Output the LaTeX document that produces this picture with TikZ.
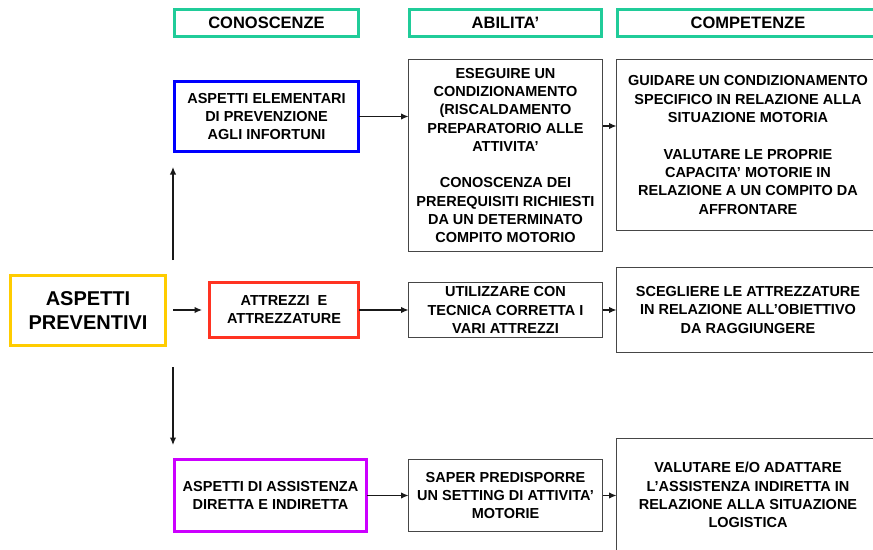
\documentclass[tikz,border=0pt]{standalone}
\usepackage{fontspec}
\setmainfont{Liberation Sans}
\usetikzlibrary{arrows.meta}
\definecolor{tealh}{RGB}{32,204,153}
\definecolor{blueb}{RGB}{0,0,255}
\definecolor{redb}{RGB}{255,51,34}
\definecolor{yelb}{RGB}{255,204,0}
\definecolor{magb}{RGB}{204,0,255}
\definecolor{grayb}{RGB}{70,70,70}
\begin{document}
\begin{tikzpicture}[x=1pt,y=-1pt,
  every node/.style={align=center, inner sep=0pt, outer sep=0pt},
  hdr/.style={draw=tealh, line width=3pt, minimum height=27pt, font=\fontsize{16.5}{19}\selectfont\bfseries},
  cbox/.style={line width=3pt, font=\fontsize{14.5}{18}\selectfont\bfseries},
  gbox/.style={draw=grayb, line width=1.2pt, font=\fontsize{14.5}{18.3}\selectfont\bfseries},
  rootbox/.style={draw=yelb, line width=3pt, font=\fontsize{20}{24}\selectfont\bfseries},
  arr/.style={-{Latex[length=7.5pt,width=6.5pt]}, line width=1.2pt, draw=black!90}
]
\useasboundingbox (0,0) rectangle (873,549);
\clip (0,0) rectangle (873,549);

% headers
\node[hdr, minimum width=184pt] (h1) at (266.5,23) {CONOSCENZE};
\node[hdr, minimum width=192pt] (h2) at (505.5,23) {ABILITA’};
\node[hdr, minimum width=261pt] (h3) at (748,23) {COMPETENZE};

% root
\node[rootbox, minimum width=155pt, minimum height=70pt] (root) at (88,310.5) {ASPETTI\\PREVENTIVI};

% conoscenze
\node[cbox, draw=blueb, minimum width=184pt, minimum height=70pt] (kn1) at (266.5,116.5)
  {ASPETTI ELEMENTARI\\DI PREVENZIONE\\AGLI INFORTUNI};
\node[cbox, draw=redb, minimum width=149pt, minimum height=55pt] (kn2) at (284,310)
  {ATTREZZI\ \ E\\ATTREZZATURE};
\node[cbox, draw=magb, minimum width=192pt, minimum height=72pt] (kn3) at (270.5,495.5)
  {ASPETTI DI ASSISTENZA\\DIRETTA E INDIRETTA};

% abilita
\node[gbox, minimum width=194pt, minimum height=192pt] (ab1) at (505.5,155.5)
  {ESEGUIRE UN\\CONDIZIONAMENTO\\(RISCALDAMENTO\\PREPARATORIO ALLE\\ATTIVITA’\\[18.3pt]CONOSCENZA DEI\\PREREQUISITI RICHIESTI\\DA UN DETERMINATO\\COMPITO MOTORIO};
\node[gbox, minimum width=194pt, minimum height=55pt] (ab2) at (505.5,310)
  {UTILIZZARE CON\\TECNICA CORRETTA I\\VARI ATTREZZI};
\node[gbox, minimum width=194pt, minimum height=72pt] (ab3) at (505.5,495.5)
  {SAPER PREDISPORRE\\UN SETTING DI ATTIVITA’\\MOTORIE};

% competenze
\node[gbox, minimum width=263pt, minimum height=171pt] (co1) at (748,145)
  {GUIDARE UN CONDIZIONAMENTO\\SPECIFICO IN RELAZIONE ALLA\\SITUAZIONE MOTORIA\\[18.3pt]VALUTARE LE PROPRIE\\CAPACITA’ MOTORIE IN\\RELAZIONE A UN COMPITO DA\\AFFRONTARE};
\node[gbox, minimum width=263pt, minimum height=85pt] (co2) at (748,310)
  {SCEGLIERE LE ATTREZZATURE\\IN RELAZIONE ALL’OBIETTIVO\\DA RAGGIUNGERE};
\node[gbox, minimum width=263pt, minimum height=113pt] (co3) at (748,495)
  {VALUTARE E/O ADATTARE\\L’ASSISTENZA INDIRETTA IN\\RELAZIONE ALLA SITUAZIONE\\LOGISTICA};

% root arrows
\coordinate (upS) at (173,260);
\coordinate (upE) at (173,167);
\coordinate (rtS) at (173,310);
\coordinate (rtE) at (202,310);
\coordinate (dnS) at (173,367);
\coordinate (dnE) at (173,445);
\draw[arr] (upS) -- (upE);
\draw[arr] (rtS) -- (rtE);
\draw[arr] (dnS) -- (dnE);

% row arrows
\draw[arr] (kn1.east) -- (kn1.east -| ab1.west);
\draw[arr] (ab1.east |- 0,126) -- (co1.west |- 0,126);
\draw[arr] (kn2.east) -- (kn2.east -| ab2.west);
\draw[arr] (ab2.east) -- (ab2.east -| co2.west);
\draw[arr] (kn3.east) -- (kn3.east -| ab3.west);
\draw[arr] (ab3.east) -- (ab3.east -| co3.west);
\end{tikzpicture}
\end{document}
